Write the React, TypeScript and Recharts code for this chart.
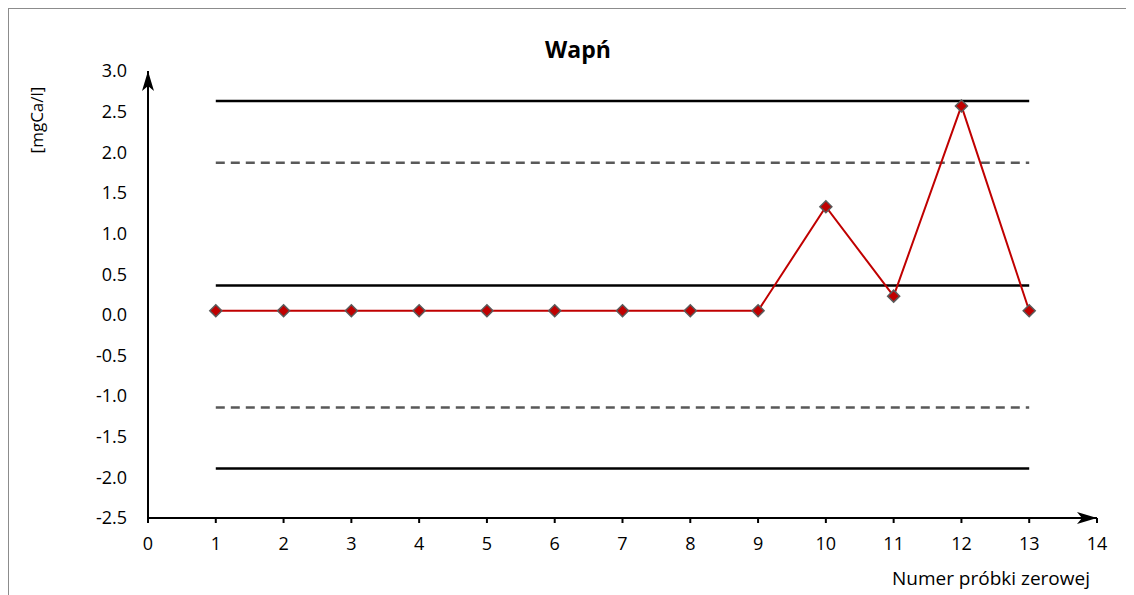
import { LineChart, Line, XAxis, YAxis, ReferenceLine } from 'recharts';

const sampleNo = [1, 2, 3, 4, 5, 6, 7, 8, 9, 10, 11, 12, 13];
const calcium = [0.05, 0.05, 0.05, 0.05, 0.05, 0.05, 0.05, 0.05, 0.05, 1.33, 0.23, 2.57, 0.05];

// control limits
const solidLimits = [2.63, 0.36, -1.89];
const dashedLimits = [1.87, -1.14];

const xTicks = [0, 1, 2, 3, 4, 5, 6, 7, 8, 9, 10, 11, 12, 13, 14];
const yTicks = [-2.5, -2, -1.5, -1, -0.5, 0, 0.5, 1, 1.5, 2, 2.5, 3];

const data = sampleNo.map((n, i) => ({ x: n, y: calcium[i] }));

const font = '"Open Sans", sans-serif';

const Diamond = (props: any) => {
  const { cx, cy, index } = props;
  if (cx == null || cy == null) return null;
  const s = 6;
  return (
    <path
      key={index}
      d={`M${cx},${cy - s} L${cx + s},${cy} L${cx},${cy + s} L${cx - s},${cy} Z`}
      fill="#C00000"
      stroke="#5a5a5a"
      strokeWidth={1.5}
    />
  );
};

export default function App() {
  return (
    <div style={{ width: 1124, height: 600, borderLeft: '1px solid #8c8c8c', borderTop: '1px solid #8c8c8c', borderRight: '1px solid #8c8c8c', background: '#fff' }}>
      <LineChart width={1124} height={587} data={data} margin={{ top: 62, right: 36, bottom: 48, left: 78 }}>
        <defs>
          <marker id="arrow" viewBox="0 0 20 12" refX="20" refY="6" markerWidth="20" markerHeight="12" markerUnits="userSpaceOnUse" orient="auto-start-reverse">
            <path d="M0,0 L20,6 L0,12 L5,6 Z" fill="#000" />
          </marker>
        </defs>
        <text x={569} y={49} textAnchor="middle" fontFamily={font} fontWeight="bold" fontSize={23} fill="#000">Wapń</text>
        <text transform="translate(34,111) rotate(-90)" textAnchor="middle" fontFamily={font} fontSize={17} fill="#000">[mgCa/l]</text>
        <text x={1081} y={576} textAnchor="end" fontFamily={font} fontSize={19} fill="#000">Numer próbki zerowej</text>
        <XAxis
          dataKey="x"
          type="number"
          domain={[0, 14]}
          ticks={xTicks}
          interval={0}
          axisLine={{ stroke: '#000', strokeWidth: 2, markerEnd: 'url(#arrow)' } as any}
          tickLine={{ stroke: '#000', strokeWidth: 2 }}
          tickSize={5}
          tickMargin={14}
          tick={{ fill: '#000', fontSize: 18, fontFamily: font }}
          height={30}
        />
        <YAxis
          type="number"
          domain={[-2.5, 3]}
          ticks={yTicks}
          interval={0}
          axisLine={{ stroke: '#000', strokeWidth: 2, markerStart: 'url(#arrow)' } as any}
          tickLine={false}
          tickSize={0}
          tickMargin={21}
          tickFormatter={(v: number) => v.toFixed(1)}
          tick={{ fill: '#000', fontSize: 18, fontFamily: font }}
          width={61}
        />
        {solidLimits.map((v) => (
          <ReferenceLine key={'s' + v} segment={[{ x: 1, y: v }, { x: 13, y: v }]} stroke="#000" strokeWidth={2.5} ifOverflow="extendDomain" />
        ))}
        {dashedLimits.map((v) => (
          <ReferenceLine key={'d' + v} segment={[{ x: 1, y: v }, { x: 13, y: v }]} stroke="#595959" strokeWidth={2.5} strokeDasharray="9 6" ifOverflow="extendDomain" />
        ))}
        <Line type="linear" dataKey="y" stroke="#C00000" strokeWidth={2} dot={<Diamond />} activeDot={false} isAnimationActive={false} />
      </LineChart>
    </div>
  );
}
